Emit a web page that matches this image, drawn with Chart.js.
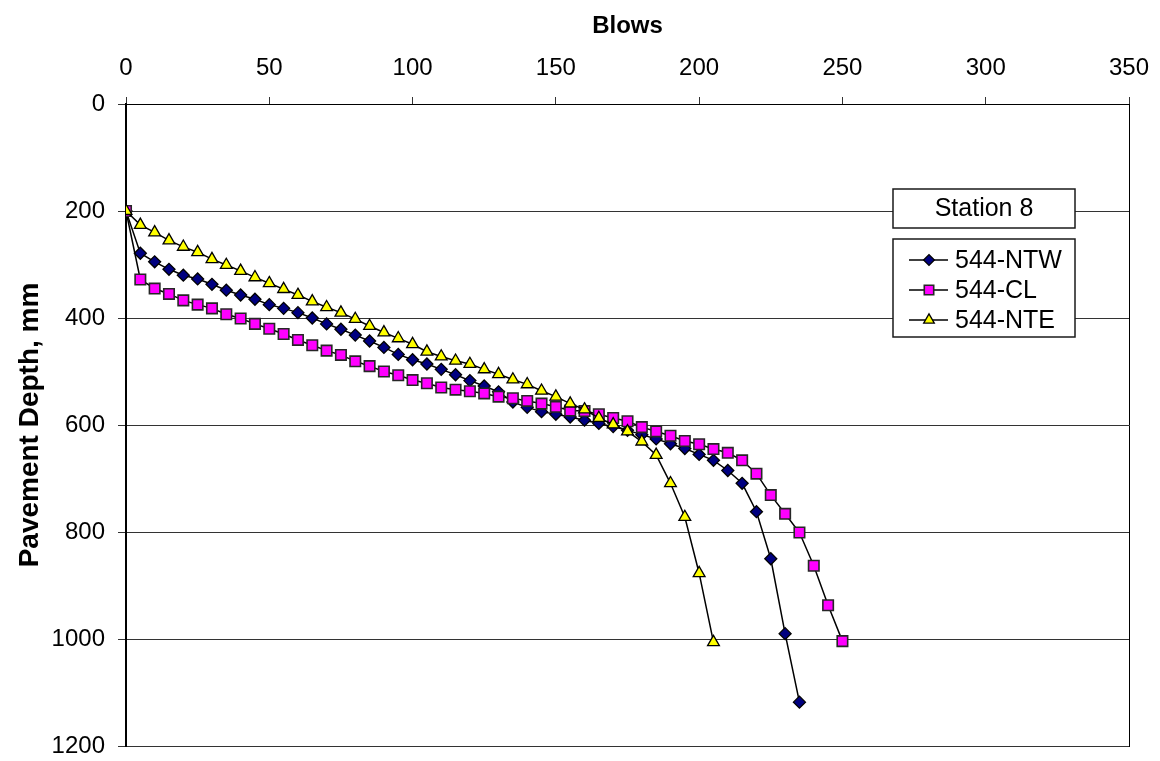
<!DOCTYPE html>
<html>
<head>
<meta charset="utf-8">
<script src="https://cdn.jsdelivr.net/npm/chart.js@4.4.1/dist/chart.umd.min.js"></script>
<style>
  html, body { margin: 0; padding: 0; background: #fff; }
  #wrap { width: 1160px; height: 761px; }
</style>
</head>
<body>
<div id="wrap"><canvas id="dcp" width="1160" height="761"></canvas></div>
<script>
// DCP penetration record, Station 8: cumulative blows vs. pavement depth (mm)
const blows = [0, 5, 10, 15, 20, 25, 30, 35, 40, 45, 50, 55, 60, 65, 70, 75, 80, 85, 90, 95,
  100, 105, 110, 115, 120, 125, 130, 135, 140, 145, 150, 155, 160, 165, 170, 175, 180, 185, 190, 195,
  200, 205, 210, 215, 220, 225, 230, 235, 240, 245, 250];

const depthNTW = [200, 279, 295, 309, 320, 327, 337, 348, 357, 365, 375, 382, 390, 400, 411, 421, 432, 443, 455, 468,
  478, 486, 496, 506, 517, 527, 538, 557, 567, 575, 580, 585, 591, 597, 603, 610, 618, 626, 635, 644,
  655, 666, 685, 709, 762, 850, 990, 1118];

const depthCL = [200, 328, 345, 355, 367, 375, 382, 393, 401, 411, 420, 430, 441, 451, 461, 469, 481, 490, 500, 507,
  516, 522, 530, 534, 537, 541, 547, 550, 555, 560, 566, 573, 574, 580, 587, 593, 604, 612, 620, 630,
  636, 645, 652, 666, 691, 731, 766, 801, 863, 937, 1004];

const depthNTE = [200, 226, 240, 255, 267, 277, 290, 301, 312, 324, 335, 346, 357, 369, 380, 390, 402, 415, 427, 438,
  449, 463, 472, 480, 486, 496, 505, 515, 524, 536, 547, 560, 571, 587, 599, 612, 631, 656, 709, 772,
  877, 1006];

const seriesNames = ['544-NTW', '544-CL', '544-NTE'];
const boxTitle = 'Station 8';
const xTicks = [0, 50, 100, 150, 200, 250, 300, 350];
const yTicks = [0, 200, 400, 600, 800, 1000, 1200];

const FONT = '"Liberation Sans", Arial, sans-serif';

function pairs(depths) {
  return depths.map((d, i) => ({ x: blows[i], y: d }));
}

const styles = [
  { pointStyle: 'rectRot', bg: '#000080', border: '#000000', radius: 6, bw: 1.3 },
  { pointStyle: 'rect',    bg: '#FF00FF', border: '#262626', radius: 7.4, bw: 1.6 },
  { pointStyle: 'triangle', bg: '#FFFF00', border: '#000000', radius: 6.8, bw: 1.3 }
];

const datasets = [depthNTW, depthCL, depthNTE].map((d, i) => ({
  label: seriesNames[i],
  data: pairs(d),
  showLine: true,
  borderColor: '#000000',
  borderWidth: 1.5,
  pointStyle: styles[i].pointStyle,
  pointRadius: styles[i].radius,
  pointHoverRadius: styles[i].radius,
  pointBackgroundColor: styles[i].bg,
  pointBorderColor: styles[i].border,
  pointBorderWidth: styles[i].bw,
  order: 3 - i
}));

// Text box with the station name and the series key, drawn inside the plot area
const keyBoxes = {
  id: 'keyBoxes',
  afterDatasetsDraw(chart) {
    const ctx = chart.ctx;
    const area = chart.chartArea;
    const left = area.right - 236;
    const w = 182;
    ctx.save();
    ctx.lineWidth = 1.5;
    ctx.strokeStyle = '#1a1a1a';
    ctx.fillStyle = '#ffffff';

    // station box
    const sTop = area.top + 85;
    ctx.fillRect(left, sTop, w, 39);
    ctx.strokeRect(left, sTop, w, 39);
    ctx.fillStyle = '#000';
    ctx.font = '25px ' + FONT;
    ctx.textAlign = 'center';
    ctx.textBaseline = 'middle';
    ctx.fillText(boxTitle, left + w / 2, sTop + 20);

    // series key
    const kTop = area.top + 135;
    const kH = 98;
    ctx.fillStyle = '#ffffff';
    ctx.fillRect(left, kTop, w, kH);
    ctx.strokeRect(left, kTop, w, kH);
    ctx.textAlign = 'left';
    datasets.forEach((ds, i) => {
      const cy = kTop + 21 + i * 30;
      ctx.strokeStyle = '#000';
      ctx.lineWidth = 1.5;
      ctx.beginPath();
      ctx.moveTo(left + 16, cy);
      ctx.lineTo(left + 55, cy);
      ctx.stroke();
      ctx.fillStyle = ds.pointBackgroundColor;
      ctx.strokeStyle = ds.pointBorderColor;
      ctx.lineWidth = ds.pointBorderWidth;
      Chart.helpers.drawPoint(ctx, { pointStyle: ds.pointStyle, radius: ds.pointRadius * 0.9, borderWidth: ds.pointBorderWidth }, left + 36, cy);
      ctx.fillStyle = '#000';
      ctx.fillText(ds.label, left + 62, cy + 1);
    });
    ctx.restore();
  }
};

// keep the plot edges fixed regardless of edge-label overhang
function noOverhang(s) {
  s.paddingTop = 0; s.paddingBottom = 0; s.paddingLeft = 0; s.paddingRight = 0;
}

new Chart(document.getElementById('dcp'), {
  type: 'scatter',
  data: { datasets },
  options: {
    responsive: false,
    animation: false,
    events: [],
    layout: { padding: { left: 0, right: 31, top: 0, bottom: 15 } },
    plugins: { legend: { display: false }, tooltip: { enabled: false } },
    scales: {
      x: {
        type: 'linear',
        position: 'top',
        min: 0, max: 350,
        afterBuildTicks(s) { s.ticks = xTicks.map(v => ({ value: v })); },
        afterFit(s) { s.height = 104; noOverhang(s); },
        ticks: { color: '#000', font: { family: FONT, size: 24 }, padding: 14,
          callback: v => String(v) },
        grid: { drawOnChartArea: false, drawTicks: true, tickLength: 7, color: '#333' },
        border: { color: '#000', width: 1 },
        title: { display: true, text: 'Blows', color: '#000',
          font: { family: FONT, size: 24, weight: 'bold' }, padding: { top: 12, bottom: 0 } }
      },
      y: {
        type: 'linear',
        reverse: true,
        min: 0, max: 1200,
        afterBuildTicks(s) { s.ticks = yTicks.map(v => ({ value: v })); },
        afterFit(s) { s.width = 126; noOverhang(s); },
        ticks: { color: '#000', font: { family: FONT, size: 24 }, padding: 13,
          callback: v => String(v) },
        grid: { color: '#333', lineWidth: 1, tickLength: 8 },
        border: { color: '#000', width: 2 },
        title: { display: true, text: 'Pavement Depth, mm', color: '#000',
          font: { family: FONT, size: 28, weight: 'bold' }, padding: { top: 13, bottom: 0 } }
      },
      edge: {
        type: 'linear',
        position: 'right',
        min: 0, max: 1,
        afterFit(s) { s.width = 0; noOverhang(s); },
        ticks: { display: false },
        grid: { display: false },
        border: { color: '#000', width: 1 }
      }
    }
  },
  plugins: [keyBoxes]
});
</script>
</body>
</html>
